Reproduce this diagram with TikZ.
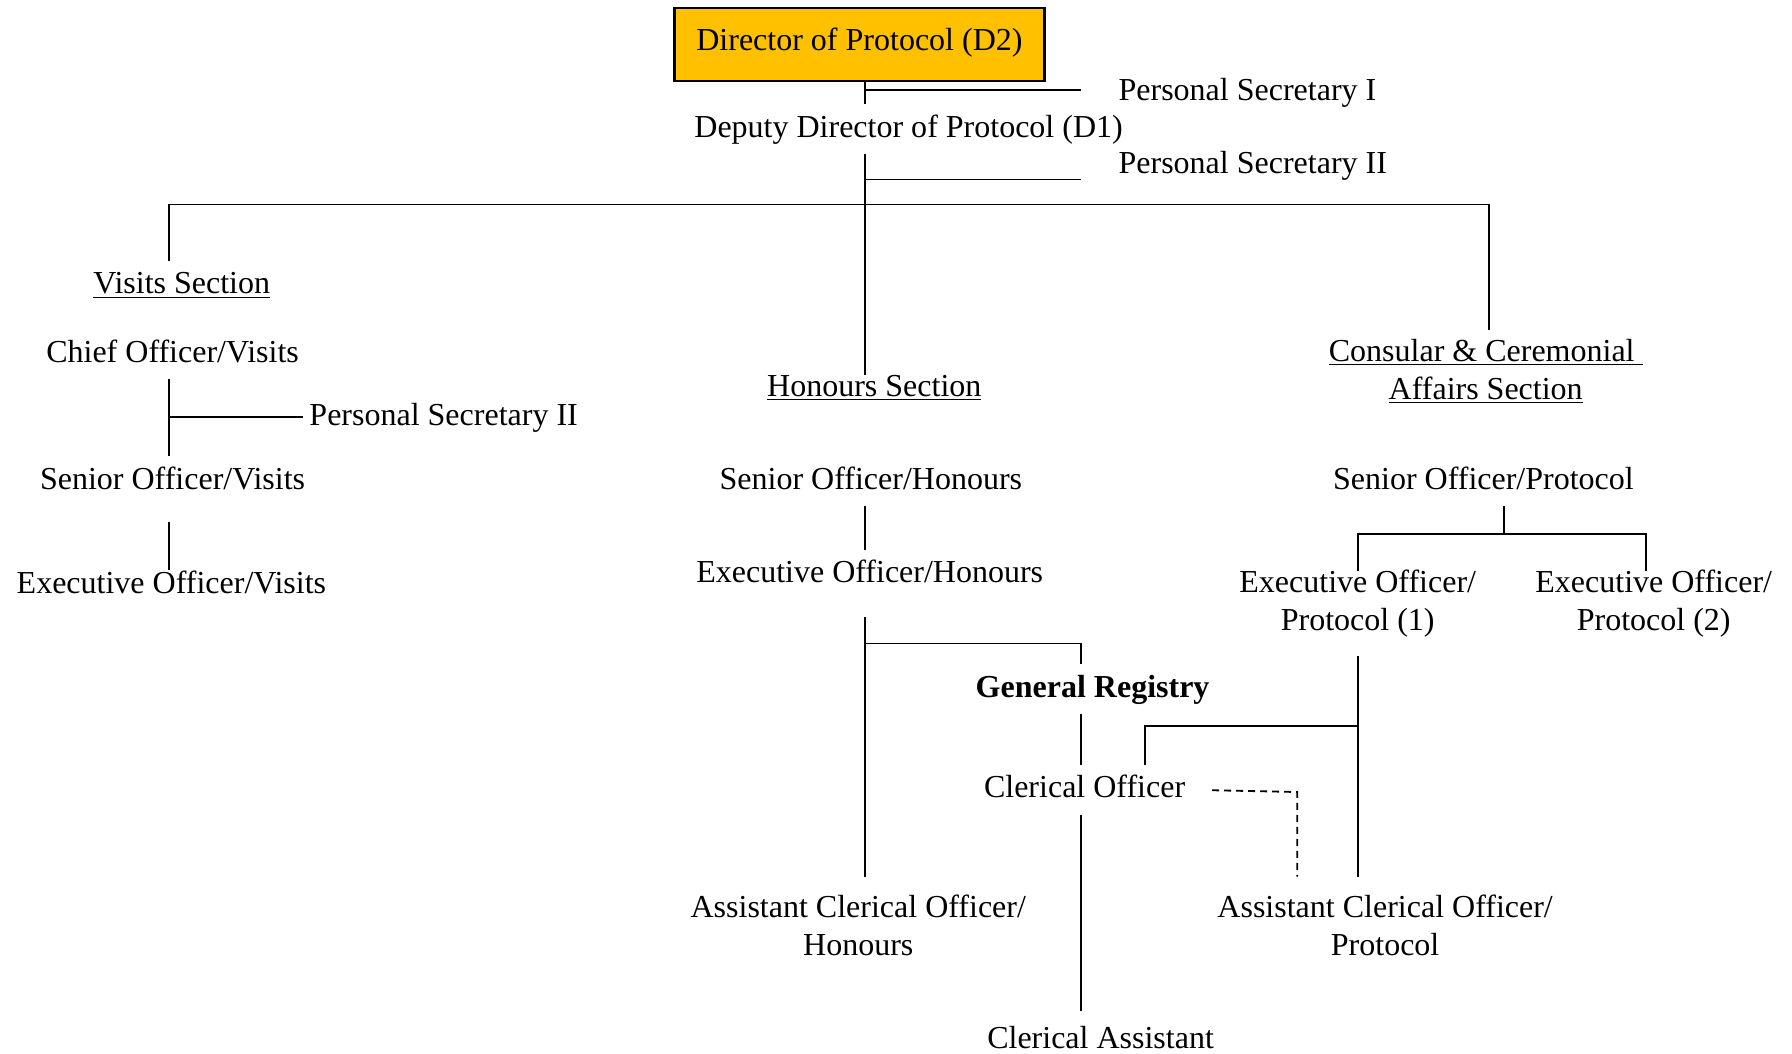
\documentclass[tikz,border=0pt]{standalone}
\usepackage{fontspec}
\setmainfont{Liberation Serif}
\definecolor{dirgold}{HTML}{FFC000}

\begin{document}
\begin{tikzpicture}[x=0.5714pt,y=0.5714pt,yscale=-1,xscale=1,line width=0.9pt,
  lbl/.style={font=\fontsize{16}{18.9}\selectfont,inner xsep=0pt,inner ysep=4pt,text height=12pt,text depth=4pt},
  lbltwo/.style={font=\fontsize{16}{18.9}\selectfont,align=center,inner xsep=0pt,inner ysep=4pt}]
\useasboundingbox (0,0) rectangle (1568,922);

%Shape: Rectangle [id:director]
\draw (752,39) node [draw,line width=1.2pt,fill=dirgold,minimum width=185.1pt,minimum height=36.6pt,text depth=5.5pt,font=\fontsize{16}{18.9}\selectfont] (dir) {Director of Protocol (D2)};

% Text Node
\draw (795,113) node [lbl] (dep) {Deputy Director of Protocol (D1)};
% Text Node
\draw (978,81) node [lbl,anchor=west] (psa) {Personal Secretary I};
% Text Node
\draw (978,145) node [lbl,anchor=west] (psb) {Personal Secretary II};
% Text Node
\draw (159,250) node [lbl] (vis) {\underline{Visits Section}};
% Text Node
\draw (151,310) node [lbl] (chv) {Chief Officer/Visits};
% Text Node
\draw (270,365) node [lbl,anchor=west] (psc) {Personal Secretary II};
% Text Node
\draw (151,421) node [lbl] (sov) {Senior Officer/Visits};
% Text Node
\draw (150,512) node [lbl] (eov) {Executive Officer/Visits};
% Text Node
\draw (765,340) node [lbl] (hon) {\underline{Honours Section}};
% Text Node
\draw (762,421) node [lbl] (soh) {Senior Officer/Honours};
% Text Node
\draw (761,503) node [lbl] (eoh) {Executive Officer/Honours};
% Text Node
\draw (1300,325) node [lbltwo] (ccs) {\underline{Consular \& Ceremonial\ }\\\underline{Affairs Section}};
% Text Node
\draw (1298,421) node [lbl] (sop) {Senior Officer/Protocol};
% Text Node
\draw (1188,528) node [lbltwo] (eopa) {Executive Officer/\\Protocol (1)};
% Text Node
\draw (1447,528) node [lbltwo] (eopb) {Executive Officer/\\Protocol (2)};
% Text Node
\draw (956,603) node [lbl] (reg) {\textbf{General Registry}};
% Text Node
\draw (949,691) node [lbl] (clo) {Clerical Officer};
% Text Node
\draw (751,810) node [lbltwo] (acoh) {Assistant Clerical Officer/\\Honours};
% Text Node
\draw (1212,810) node [lbltwo] (acop) {Assistant Clerical Officer/\\Protocol};
% Text Node
\draw (963,910) node [lbl] (cla) {Clerical Assistant};

%Junctions
\coordinate (spine) at (757,0);
\coordinate (psaend) at (946,79);
\coordinate (psbend) at (946,157);
\coordinate (barl) at (148,179);
\coordinate (barr) at (1303,179);
\coordinate (vjoin) at (148,365);
\coordinate (hjoin) at (946,563);
\coordinate (pbar) at (1316,467);
\coordinate (pbarr) at (1440,467);
\coordinate (cob) at (1002,635);
\coordinate (dsh) at (1135,693);

%Director and deputy
\draw (dir.south -| spine) -- (dep.north -| spine);
\draw (psaend -| spine) -- (psaend);
\draw [shorten >=-5.5pt] (dep.south -| spine) -- (hon.north -| spine);
\draw (psbend -| spine) -- (psbend);
\draw (vis.north -| barl) -- (barl) -- (barr) -- (barr |- ccs.north);

%Visits
\draw (chv.south -| vjoin) -- (sov.north -| vjoin);
\draw [shorten >=3pt] (vjoin) -- (vjoin -| psc.west);
\draw [shorten <=8pt,shorten >=-5pt] (sov.south -| vjoin) -- (eov.north -| vjoin);

%Honours and registry
\draw (soh.south -| spine) -- (eoh.north -| spine);
\draw [shorten <=8.5pt,shorten >=5pt] (eoh.south -| spine) -- (acoh.north -| spine);
\draw (hjoin -| spine) -- (hjoin) -- (reg.north -| hjoin);
\draw (reg.south -| hjoin) -- (clo.north -| hjoin);
\draw [shorten >=2pt] (clo.south -| hjoin) -- (cla.north -| hjoin);

%Protocol
\draw (sop.south -| pbar) -- (pbar);
\draw [shorten <=-5pt,shorten >=-5pt] (eopa.north) -- (eopa.north |- pbar) -- (pbarr) -- (pbarr |- eopb.north);
\draw [shorten <=5pt,shorten >=5pt] (eopa.south) -- (eopa.south |- acop.north);
\draw (cob -| eopa.south) -- (cob) -- (cob |- clo.north);
\draw [dashed,dash pattern=on 3.5pt off 2.5pt,shorten <=13pt,shorten >=5pt] (clo.east) -- (dsh) -- (dsh |- acop.north);
\end{tikzpicture}
\end{document}
